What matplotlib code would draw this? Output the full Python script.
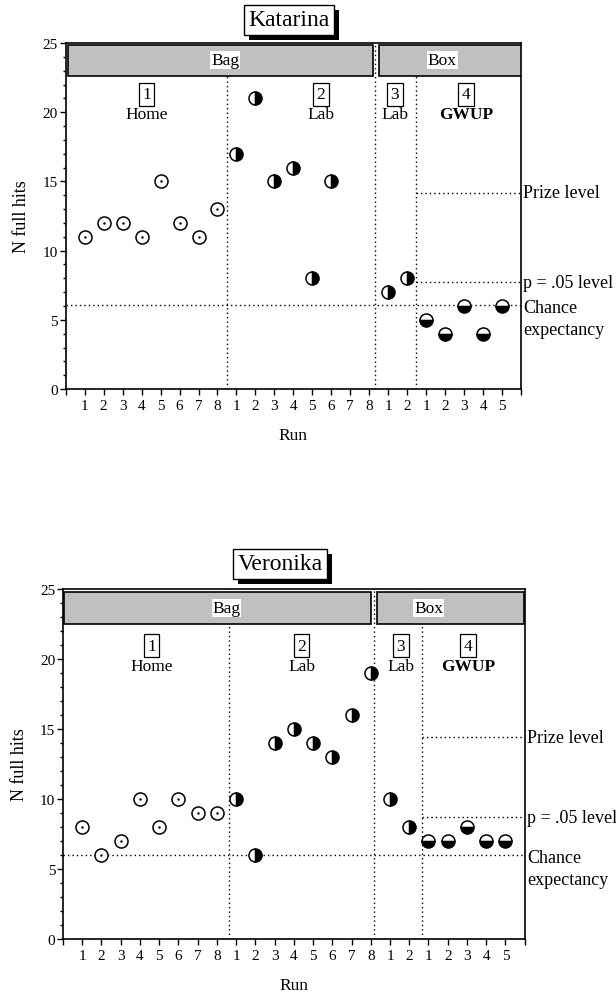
import numpy as np
import matplotlib
matplotlib.use('Agg')
import matplotlib.pyplot as plt
from matplotlib.patches import Rectangle
from matplotlib import patheffects
from matplotlib.ticker import MultipleLocator
from matplotlib.transforms import blended_transform_factory

# Times-like look
plt.rcParams['font.family'] = ['Liberation Serif', 'DejaVu Serif']

# ------------------------------------------------------
# DATA
# ------------------------------------------------------

run_labels = [1, 2, 3, 4, 5, 6, 7, 8, 1, 2, 3, 4, 5, 6, 7, 8, 1, 2, 1, 2, 3, 4, 5]
section_sizes = [8, 8, 2, 5]
section_numbers = ['1', '2', '3', '4']
section_names = ['Home', 'Lab', 'Lab', 'GWUP']
condition_names = ['Bag', 'Box']
level_names = ['Prize level', 'p = .05 level', 'Chance\nexpectancy']

# Katarina
kat_home = [11, 12, 12, 11, 15, 12, 11, 13]
kat_lab = [17, 21, 15, 16, 8, 15]
kat_lab3 = [7, 8]
kat_gwup = [5, 4, 6, 4, 6]
kat_levels = [14.2, 7.7, 6.1]   # prize, p = .05, chance

# Veronika
ver_home = [8, 6, 7, 10, 8, 10, 9, 9]
ver_lab = [10, 6, 14, 15, 14, 13, 16, 19]
ver_lab3 = [10, 8]
ver_gwup = [7, 7, 8, 7, 7]
ver_levels = [14.4, 8.7, 6.0]

# ------------------------------------------------------
# FUNCTIONS
# ------------------------------------------------------

fs = 12.5
dots = (0, (1, 2.2))

def draw_panel(ax, name, home, lab, lab3, gwup, levels, lay):
	starts = np.cumsum([0] + section_sizes[:-1])
	x_home = starts[0] + 1 + np.arange(len(home))
	x_lab = starts[1] + 1 + np.arange(len(lab))
	x_lab3 = starts[2] + 1 + np.arange(len(lab3))
	x_gwup = starts[3] + 1 + np.arange(len(gwup))

	ax.set_xlim(0, 24)
	ax.set_ylim(0, 25)

	# Section dividers
	for d in lay['div']:
		ax.axvline(d, color='k', lw=1, ls=dots, zorder=1)

	# Level lines
	prize, p05, chance = levels
	ax.hlines([prize, p05], lay['div'][2], 24, color='k', lw=1, ls=dots, zorder=1)
	ax.hlines(chance, 0, 24, color='k', lw=1, ls=dots, zorder=1)

	# Condition bands
	y0, y1 = lay['band_y']
	for (a, b), lx, lab_txt in zip(lay['bands'], lay['band_lx'], condition_names):
		ax.add_patch(Rectangle((a, y0), b - a, y1 - y0, fc='#c0c0c0', ec='k', lw=1.2, zorder=3))
		ax.text(lx, (y0 + y1) / 2, lab_txt, ha='center', va='center', fontsize=fs, zorder=4,
			bbox=dict(boxstyle='square,pad=0.05', fc='white', ec='none'))

	# Section labels
	for sx, num, sname in zip(lay['sec_x'], section_numbers, section_names):
		ax.text(sx, lay['num_y'], num, ha='center', va='center', fontsize=fs,
			bbox=dict(boxstyle='square,pad=0.2', fc='white', ec='k', lw=0.9))
		ax.text(sx, lay['name_y'], sname, ha='center', va='center', fontsize=fs,
			fontweight='bold' if sname == 'GWUP' else 'normal')

	# Markers
	ms = 9.4
	ax.plot(x_home, home, 'o', ms=ms, mfc='white', mec='k', mew=1.1, zorder=5)
	ax.plot(x_home, home, '.', ms=1.5, color='k', zorder=6)
	for xs, ys in [(x_lab, lab), (x_lab3, lab3)]:
		ax.plot(xs, ys, 'o', ms=ms, fillstyle='right', mfc='k', markerfacecoloralt='white',
			mec='k', mew=1.1, zorder=5)
	ax.plot(x_gwup, gwup, 'o', ms=ms, fillstyle='bottom', mfc='k', markerfacecoloralt='white',
		mec='k', mew=1.1, zorder=5)

	# Level labels on the right
	trans = blended_transform_factory(ax.transAxes, ax.transData)
	ax.text(1.005, prize, level_names[0], transform=trans, ha='left', va='center', fontsize=13)
	ax.text(1.005, p05, level_names[1], transform=trans, ha='left', va='center', fontsize=13)
	ax.text(1.005, chance + 0.4, level_names[2], transform=trans, ha='left', va='top',
		fontsize=13, linespacing=1.35)

	# Axes and ticks
	ax.set_xticks(range(25))
	ax.set_xticklabels([''] + [str(r) for r in run_labels] + [''])
	ax.yaxis.set_major_locator(MultipleLocator(5))
	ax.yaxis.set_minor_locator(MultipleLocator(1))
	ax.tick_params(axis='x', direction='out', length=4, width=1, pad=3, labelsize=11)
	ax.tick_params(axis='y', which='major', direction='out', length=4.5, width=1, pad=1, labelsize=11)
	ax.tick_params(axis='y', which='minor', direction='out', length=2.4, width=1)
	for sp in ax.spines.values():
		sp.set_linewidth(1.2)
	ax.set_xlabel('Run', fontsize=fs, labelpad=11)
	ax.set_ylabel('N full hits', fontsize=13, labelpad=9)

	# Name box with drop shadow
	t = ax.figure.text(lay['title'][0], lay['title'][1], name, ha='center', va='center', fontsize=17,
		bbox=dict(boxstyle='square,pad=0.2', fc='white', ec='k', lw=1))
	t.get_bbox_patch().set_path_effects([
		patheffects.SimplePatchShadow(offset=(3.5, -3.5), shadow_rgbFace='k', alpha=1.0),
		patheffects.Normal()])

# ------------------------------------------------------
# PLOT
# ------------------------------------------------------

fig = plt.figure(figsize=(6.16, 9.95), dpi=100)

ax1 = fig.add_axes([0.1067, 0.608, 0.7391, 0.3477])
draw_panel(ax1, 'Katarina', kat_home, kat_lab, kat_lab3, kat_gwup, kat_levels,
	{'div': (8.49, 16.32, 18.47), 'bands': [(0.1, 16.2), (16.5, 23.98)], 'band_lx': (8.4, 19.85),
	 'band_y': (22.64, 24.87), 'sec_x': (4.25, 13.45, 17.35, 21.1), 'num_y': 21.3, 'name_y': 19.85,
	 'title': (289 / 616, 1 - 21 / 995)})

ax2 = fig.add_axes([0.1023, 0.0553, 0.7494, 0.3518])
draw_panel(ax2, 'Veronika', ver_home, ver_lab, ver_lab3, ver_gwup, ver_levels,
	{'div': (8.62, 16.17, 18.65), 'bands': [(0.05, 16.0), (16.34, 23.96)], 'band_lx': (8.5, 19.0),
	 'band_y': (22.48, 24.8), 'sec_x': (4.6, 12.4, 17.57, 21.05), 'num_y': 20.95, 'name_y': 19.5,
	 'title': (280 / 616, 1 - 565 / 995)})

fig.savefig('out.png', dpi=100)
